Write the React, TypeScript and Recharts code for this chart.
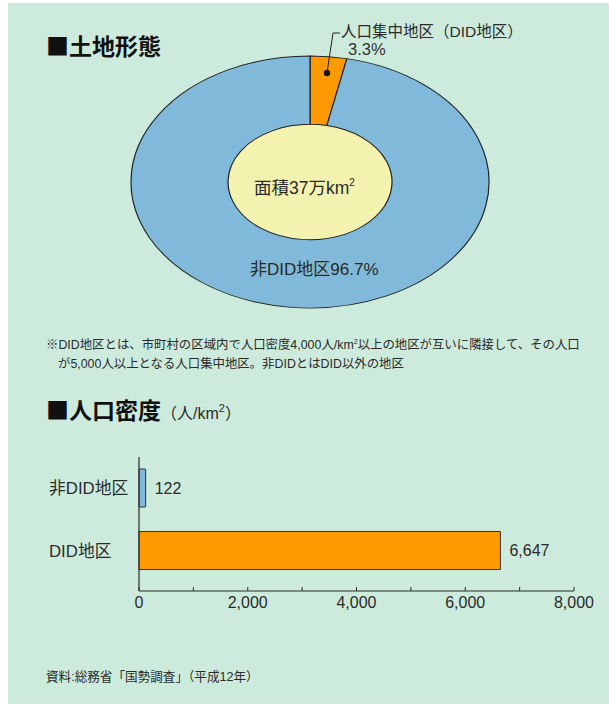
import React from 'react'
import { PieChart, Pie, Cell, BarChart, Bar, XAxis, YAxis, LabelList } from 'recharts'

// land use shares (%)
const LAND_NAMES = ['人口集中地区（DID地区）', '非DID地区']
const LAND_SHARES = [3.3, 96.7]
const LAND_COLORS = ['#FF9900', '#80B9D9']
const TOTAL_AREA = [37] // 万km2

// population density (人/km2)
const DENSITY_NAMES = ['非DID地区', 'DID地区']
const DENSITY_VALUES = [122, 6647]
const DENSITY_COLORS = ['#80B9D9', '#FF9900']
const X_TICKS = [0, 1000, 2000, 3000, 4000, 5000, 6000, 7000, 8000]

const FONT = "'Liberation Sans', 'Noto Sans CJK JP', sans-serif"
const CJK = "'Noto Sans CJK JP', sans-serif"
const INK = '#2a2a2a'
const BG = '#CDEBDD'

const landData = LAND_NAMES.map((name, i) => ({ name, value: LAND_SHARES[i] }))
const areaData = TOTAL_AREA.map(v => ({ name: '面積', value: v }))
const densityData = DENSITY_NAMES.map((name, i) => ({ name, value: DENSITY_VALUES[i] }))

const AxisTick = ({ x, y, payload }: any) => {
  const v = payload.value as number
  return (
    <g>
      <line x1={x} x2={x} y1={y - 4} y2={y} stroke={INK} strokeWidth={1} />
      {v % 2000 === 0 && (
        <text x={x} y={y + 17} textAnchor="middle" fontSize={16} fill={INK} fontFamily={FONT}>
          {v.toLocaleString('en-US')}
        </text>
      )}
    </g>
  )
}

const CatTick = ({ y, payload }: any) => (
  <text x={49} y={y} dy={6} textAnchor="start" fontSize={16.8} fill={INK} fontFamily={FONT}>
    {payload.value}
  </text>
)

const abs = (left: number, top: number, extra: React.CSSProperties = {}): React.CSSProperties => ({
  position: 'absolute',
  left,
  top,
  whiteSpace: 'nowrap',
  ...extra,
})

export default function App() {
  return (
    <div style={{ position: 'absolute', left: 0, top: 0, width: 609, height: 706, background: '#fff', fontFamily: FONT, color: INK }}>
      <div style={{ position: 'absolute', left: 8, top: 3, width: 601, height: 701, background: BG }} />

      {/* 土地形態 */}
      <div style={abs(46, 31, { fontSize: 23, fontWeight: 700, color: '#111', lineHeight: '28px', fontFamily: CJK })}>■土地形態</div>

      <div style={{ position: 'absolute', left: 110, top: -18, width: 400, height: 400, transform: 'scaleY(0.704)', transformOrigin: '50% 50%' }}>
        <PieChart width={400} height={400} margin={{ top: 0, right: 0, bottom: 0, left: 0 }}>
          <Pie
            data={areaData}
            dataKey="value"
            cx={200}
            cy={200}
            outerRadius={82}
            stroke="none"
            fill="#F3F2AF"
            isAnimationActive={false}
          />
          <Pie
            data={landData}
            dataKey="value"
            cx={200}
            cy={200}
            outerRadius={179}
            innerRadius={82}
            startAngle={90}
            endAngle={-270}
            stroke="#222"
            strokeWidth={1.2}
            isAnimationActive={false}
          >
            {landData.map((d, i) => (
              <Cell key={d.name} fill={LAND_COLORS[i]} />
            ))}
          </Pie>
        </PieChart>
      </div>

      {/* leader for the DID slice */}
      <svg style={{ position: 'absolute', left: 0, top: 0 }} width={609} height={120}>
        <polyline points="327,73 333,33 340,33" fill="none" stroke="#222" strokeWidth={1} />
        <circle cx={327} cy={73} r={3.2} fill="#111" />
      </svg>
      <div style={abs(341, 25, { fontSize: 15.5, lineHeight: '14px' })}>{LAND_NAMES[0]}</div>
      <div style={abs(348, 42, { fontSize: 16.5, lineHeight: '14px', color: '#333' })}>{LAND_SHARES[0]}%</div>

      <div style={abs(254, 171, { fontSize: 17.5, lineHeight: '24px' })}>
        面積{TOTAL_AREA[0]}万km<sup style={{ fontSize: 10, verticalAlign: 8 }}>2</sup>
      </div>
      <div style={abs(250, 259, { fontSize: 17, lineHeight: '22px' })}>
        {LAND_NAMES[1]}
        {LAND_SHARES[1]}%
      </div>

      <div style={abs(46, 332, { fontSize: 12.4, lineHeight: '19px' })}>
        ※DID地区とは、市町村の区域内で人口密度4,000人/km<sup style={{ fontSize: 7, verticalAlign: 5 }}>2</sup>以上の地区が互いに隣接して、その人口
        <br />
        <span style={{ paddingLeft: 12 }}>が5,000人以上となる人口集中地区。非DIDとはDID以外の地区</span>
      </div>

      {/* 人口密度 */}
      <div style={abs(46, 394, { fontSize: 23, fontWeight: 700, color: '#111', lineHeight: '28px' })}>
        <span style={{ fontFamily: CJK }}>■人口密度</span>
        <span style={{ fontSize: 16, fontWeight: 400, color: INK }}>
          （人/km<sup style={{ fontSize: 11, verticalAlign: 7 }}>2</sup>）
        </span>
      </div>

      <div style={{ position: 'absolute', left: 0, top: 440 }}>
        <BarChart
          width={609}
          height={181}
          data={densityData}
          layout="vertical"
          margin={{ top: 17, right: 35, bottom: 0, left: 0 }}
          barCategoryGap={12}
        >
          <XAxis
            type="number"
            domain={[0, 8000]}
            ticks={X_TICKS}
            interval={0}
            height={30}
            axisLine={{ stroke: INK, strokeWidth: 1.2 }}
            tickLine={false}
            tickSize={0}
            tickMargin={0}
            tick={<AxisTick />}
          />
          <YAxis
            type="category"
            dataKey="name"
            width={139}
            padding={{ top: 0, bottom: 9 }}
            axisLine={{ stroke: INK, strokeWidth: 1.2 }}
            tickLine={false}
            tick={<CatTick />}
          />
          <Bar dataKey="value" barSize={38} stroke="#333" strokeWidth={1} isAnimationActive={false}>
            {densityData.map((d, i) => (
              <Cell key={d.name} fill={DENSITY_COLORS[i]} />
            ))}
            <LabelList
              dataKey="value"
              position="right"
              offset={9}
              formatter={(v: any) => Number(v).toLocaleString('en-US')}
              style={{ fontSize: 16, fill: INK, fontFamily: FONT }}
            />
          </Bar>
        </BarChart>
      </div>

      <div style={abs(46, 668, { fontSize: 12.6, lineHeight: '18px' })}>資料:総務省「国勢調査」（平成12年）</div>
    </div>
  )
}
